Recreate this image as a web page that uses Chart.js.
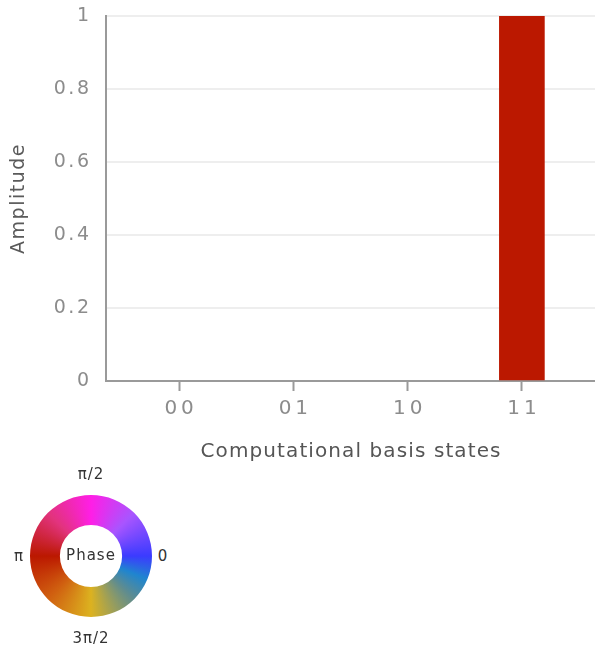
<!DOCTYPE html>
<html>
<head>
<meta charset="utf-8">
<script src="https://cdn.jsdelivr.net/npm/chart.js@4.4.1/dist/chart.umd.min.js"></script>
<style>
  html, body { margin: 0; padding: 0; background: #fff; }
  body { width: 595px; height: 651px; position: relative; overflow: hidden; font-family: "DejaVu Sans", sans-serif; }
  #main { position: absolute; left: 0; top: 0; width: 595px; height: 470px; }
  #wheel { position: absolute; left: 30px; top: 495px; width: 122px; height: 122px; }
  .phase-label { position: absolute; transform: translate(-50%, -50%); font-size: 15px; color: #333; letter-spacing: 1px; white-space: nowrap; line-height: 1; }
  .phase-title { font-size: 15px; letter-spacing: 1px; }
</style>
</head>
<body>
<div id="main"><canvas id="amp"></canvas></div>
<div id="wheel"><canvas id="phase"></canvas></div>
<script>
// Basis states and their amplitudes / phases
const states = ['00', '01', '10', '11'];
const amplitudes = [0, 0, 0, 1];
const phases = [0, 0, 0, Math.PI];
const yTicks = [0, 0.2, 0.4, 0.6, 0.8, 1];

// Phase wheel labels (angle in units of π)
const phaseMarks = [
  { angle: 0, text: '0' },
  { angle: 0.5, text: 'π/2' },
  { angle: 1, text: 'π' },
  { angle: 1.5, text: '3π/2' }
];

// Colour stops around the phase wheel (phase in units of π)
const wheelStops = [
  [0, '#3b3bff'], [0.25, '#a855ff'], [0.5, '#ff1ee6'], [0.75, '#e2337d'],
  [1, '#bb1800'], [1.25, '#d06010'], [1.5, '#dcb220'], [1.75, '#5e8c90'],
  [1.875, '#1f85cf'], [2, '#3b3bff']
];

function hexToRgb(h) {
  const n = parseInt(h.slice(1), 16);
  return [(n >> 16) & 255, (n >> 8) & 255, n & 255];
}

function phaseColor(phi) {
  let p = (phi / Math.PI) % 2;
  if (p < 0) p += 2;
  for (let i = 0; i < wheelStops.length - 1; i++) {
    const [p0, c0] = wheelStops[i];
    const [p1, c1] = wheelStops[i + 1];
    if (p >= p0 && p <= p1) {
      const t = (p - p0) / (p1 - p0);
      const a = hexToRgb(c0), b = hexToRgb(c1);
      const m = a.map((v, k) => Math.round(v + (b[k] - v) * t));
      return `rgb(${m[0]}, ${m[1]}, ${m[2]})`;
    }
  }
  return wheelStops[0][1];
}

// Letter spacing for axis labels and titles
function wrapWithSpacing(scale, method, spacing, shift, chart) {
  if (!spacing) return;
  const original = scale[method];
  scale[method] = function (...args) {
    const ctx = chart.ctx;
    ctx.save();
    ctx.letterSpacing = spacing + 'px';
    ctx.translate(spacing * shift, 0);
    original.apply(this, args);
    ctx.restore();
  };
}

const textSpacing = {
  id: 'textSpacing',
  afterLayout(chart, args, opts) {
    Object.values(chart.scales).forEach(scale => {
      if (scale.$spaced) return;
      scale.$spaced = true;
      const cfg = opts[scale.id] || {};
      const horizontal = scale.isHorizontal();
      wrapWithSpacing(scale, 'drawLabels', cfg.ticks, horizontal ? 0.5 : 1, chart);
      wrapWithSpacing(scale, 'drawTitle', cfg.title, horizontal ? 0.5 : 0, chart);
    });
  }
};

Chart.defaults.font.family = '"DejaVu Sans", sans-serif';

new Chart(document.getElementById('amp'), {
  type: 'bar',
  data: {
    datasets: [{
      data: states.map((s, i) => ({ x: i, y: amplitudes[i] })),
      backgroundColor: phases.map((p, i) => amplitudes[i] > 0 ? phaseColor(p) : 'rgba(0,0,0,0)'),
      borderWidth: 0,
      barThickness: 45
    }]
  },
  options: {
    responsive: true,
    maintainAspectRatio: false,
    animation: false,
    events: [],
    layout: { padding: 0 },
    plugins: {
      legend: { display: false },
      tooltip: { enabled: false },
      textSpacing: { x: { ticks: 4, title: 1.1 }, y: { ticks: 2.5, title: 1.5 } }
    },
    scales: {
      x: {
        type: 'linear',
        min: -0.64,
        max: 3.64,
        offset: false,
        afterBuildTicks: s => { s.ticks = states.map((_, i) => ({ value: i })); },
        afterFit: s => { s.height = 89; },
        ticks: {
          callback: v => states[v],
          color: '#8c8c8c',
          font: { size: 20 },
          padding: 6,
          maxRotation: 0,
          autoSkip: false
        },
        grid: { offset: false, drawOnChartArea: false, drawTicks: true, tickLength: 10, tickColor: '#9a9a9a', tickWidth: 2 },
        border: { display: true, color: '#9a9a9a', width: 2 },
        title: {
          display: true,
          text: 'Computational basis states',
          color: '#555',
          font: { size: 20 },
          padding: { top: 0, bottom: 6 }
        }
      },
      y: {
        min: 0,
        max: 1,
        afterBuildTicks: s => { s.ticks = yTicks.map(v => ({ value: v })); },
        afterFit: s => { s.width = 106; s.paddingTop = 16; s.paddingBottom = 0; },
        ticks: {
          callback: v => String(v),
          color: '#8c8c8c',
          font: { size: 19 },
          padding: 17
        },
        grid: { color: '#eeeeee', lineWidth: 2, drawTicks: false },
        border: { display: true, color: '#9a9a9a', width: 2 },
        title: {
          display: true,
          text: 'Amplitude',
          color: '#5a5a5a',
          font: { size: 19 },
          padding: { top: 8, bottom: 0 }
        }
      }
    }
  },
  plugins: [textSpacing]
});

// Phase colour wheel
function conicFill(chart) {
  const area = chart.chartArea;
  if (!area) return wheelStops[0][1];
  const cx = (area.left + area.right) / 2;
  const cy = (area.top + area.bottom) / 2;
  const g = chart.ctx.createConicGradient(0, cx, cy);
  // canvas angles run clockwise, phase runs counter-clockwise
  wheelStops.forEach(([p, c]) => g.addColorStop(1 - p / 2, c));
  return g;
}

new Chart(document.getElementById('phase'), {
  type: 'doughnut',
  data: {
    datasets: [{
      data: [1],
      backgroundColor: ctx => conicFill(ctx.chart),
      borderWidth: 0,
      hoverOffset: 0,
      offset: 0
    }]
  },
  options: {
    responsive: true,
    maintainAspectRatio: false,
    animation: false,
    events: [],
    cutout: '51%',
    layout: { padding: 0 },
    plugins: { legend: { display: false }, tooltip: { enabled: false } }
  }
});

// Labels round the wheel
const wheelCx = 91, wheelCy = 556;
phaseMarks.forEach(m => {
  const a = m.angle * Math.PI;
  const el = document.createElement('div');
  el.className = 'phase-label';
  el.textContent = m.text;
  el.style.left = (wheelCx + Math.cos(a) * 72) + 'px';
  el.style.top = (wheelCy - Math.sin(a) * 82) + 'px';
  document.body.appendChild(el);
});
const centre = document.createElement('div');
centre.className = 'phase-label phase-title';
centre.textContent = 'Phase';
centre.style.left = wheelCx + 'px';
centre.style.top = (wheelCy - 1) + 'px';
document.body.appendChild(centre);
</script>
</body>
</html>
